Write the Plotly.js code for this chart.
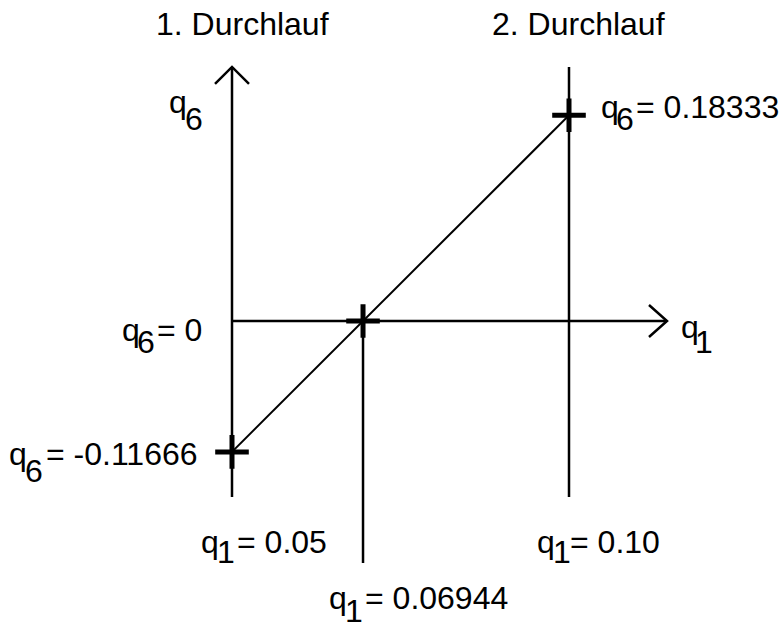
<!DOCTYPE html>
<html><head><meta charset="utf-8">
<script src="https://cdn.plot.ly/plotly-3.0.1.min.js"></script>
<style>html,body{margin:0;padding:0;background:#fff}</style>
</head><body><div id="chart" style="width:784px;height:629px"></div>
<script>
// ---- data ----
const q1Values = [0.05, 0.06944, 0.10];
const q6Values = [-0.11666, 0, 0.18333];
const runLabels = ["1. Durchlauf", "2. Durchlauf"];
const q1Labels = ["0.05", "0.06944", "0.10"];
const q6Labels = ["-0.11666", "0", "0.18333"];
// axis line extents (data units)
const q6AxisTop = 0.2264, q6AxisBottom = -0.1569, q1AxisEnd = 0.11454, midLineBottom = -0.2157;

// ---- geometry ----
const W = 784, H = 629;
const xRange = [0.015579, 0.131899], yRange = [-0.274510, 0.286096];
const kx = W / (xRange[1] - xRange[0]), ky = H / (yRange[1] - yRange[0]);
const LW = 2.5, BLACK = '#000';
const F = {family: 'Liberation Sans, Arial, sans-serif', size: 32, color: BLACK};

function seg(x, y, w) { return {x, y, type: 'scatter', mode: 'lines', line: {color: BLACK, width: w || LW}, hoverinfo: 'skip'}; }

const xa = q1Values[0], xb = q1Values[1], xc = q1Values[2];
const avx = 17 / kx, avy = 17 / ky, ahx = 18 / kx, ahy = 16 / ky;

const traces = [
  seg([xa, xa], [q6AxisBottom, q6AxisTop]),
  seg([xc, xc], [q6AxisBottom, q6AxisTop]),
  seg([xa, q1AxisEnd], [0, 0]),
  seg([xb, xb], [0, midLineBottom]),
  seg([xa - avx, xa, xa + avx], [q6AxisTop - avy, q6AxisTop, q6AxisTop - avy]),
  seg([q1AxisEnd - ahx, q1AxisEnd, q1AxisEnd - ahx], [ahy, 0, -ahy]),
  seg(q1Values, q6Values, 2),
  {x: q1Values, y: q6Values, type: 'scatter', mode: 'markers', hoverinfo: 'skip',
   marker: {symbol: 'cross-thin', size: 24, color: BLACK, line: {color: BLACK, width: 5}}}
];

const ann = [];
function part(text, xv, yv, dx, dy) {
  ann.push({x: xv, y: yv, xref: 'x', yref: 'y', text, showarrow: false, xanchor: 'left', yanchor: 'middle', xshift: dx, yshift: dy, font: F, borderpad: 0});
}
// sub-scripted variable: q + index + rest
function varLabel(idx, rest, xv, yv, qdx, qdy, idx_dx, idx_dy, rdx) {
  part('q', xv, yv, qdx, qdy);
  part(idx, xv, yv, idx_dx, idx_dy);
  if (rest) part(rest, xv, yv, rdx, qdy);
}
// titles
ann.push({x: xa, y: 0.962, xref: 'x', yref: 'paper', text: runLabels[0], showarrow: false, xanchor: 'center', yanchor: 'middle', xshift: 10, font: F});
ann.push({x: xc, y: 0.962, xref: 'x', yref: 'paper', text: runLabels[1], showarrow: false, xanchor: 'center', yanchor: 'middle', xshift: 9, font: F});
// axis names
varLabel('6', null, xa, q6AxisTop, -64, -34.9, -48, -51.9);
varLabel('1', null, q1AxisEnd, 0, 13, -5.9, 27, -20.9);
// q6 values
varLabel('6', '= ' + q6Labels[2], xc, q6Values[2], 31, 8.4, 46, -3.6, 66);
varLabel('6', '= ' + q6Labels[1], xa, q6Values[1], -111, -8.9, -96, -20.9, -76);
varLabel('6', '= ' + q6Labels[0], xa, q6Values[0], -224, -2, -208, -19, -187);
// q1 values
varLabel('1', '= ' + q1Labels[0], xa, 0, -32, -220.9, -16, -230.9, 4);
varLabel('1', '= ' + q1Labels[2], xc, 0, -33, -220.9, -17, -230.9, 0);
varLabel('1', '= ' + q1Labels[1], xb, 0, -35, -276.5, -19, -289.5, 1);

const layout = {
  width: W, height: H, margin: {l: 0, r: 0, t: 0, b: 0},
  paper_bgcolor: '#fff', plot_bgcolor: '#fff', showlegend: false,
  xaxis: {range: xRange, visible: false, fixedrange: true},
  yaxis: {range: yRange, visible: false, fixedrange: true},
  annotations: ann
};
Plotly.newPlot('chart', traces, layout, {displayModeBar: false, staticPlot: true});
</script></body></html>
